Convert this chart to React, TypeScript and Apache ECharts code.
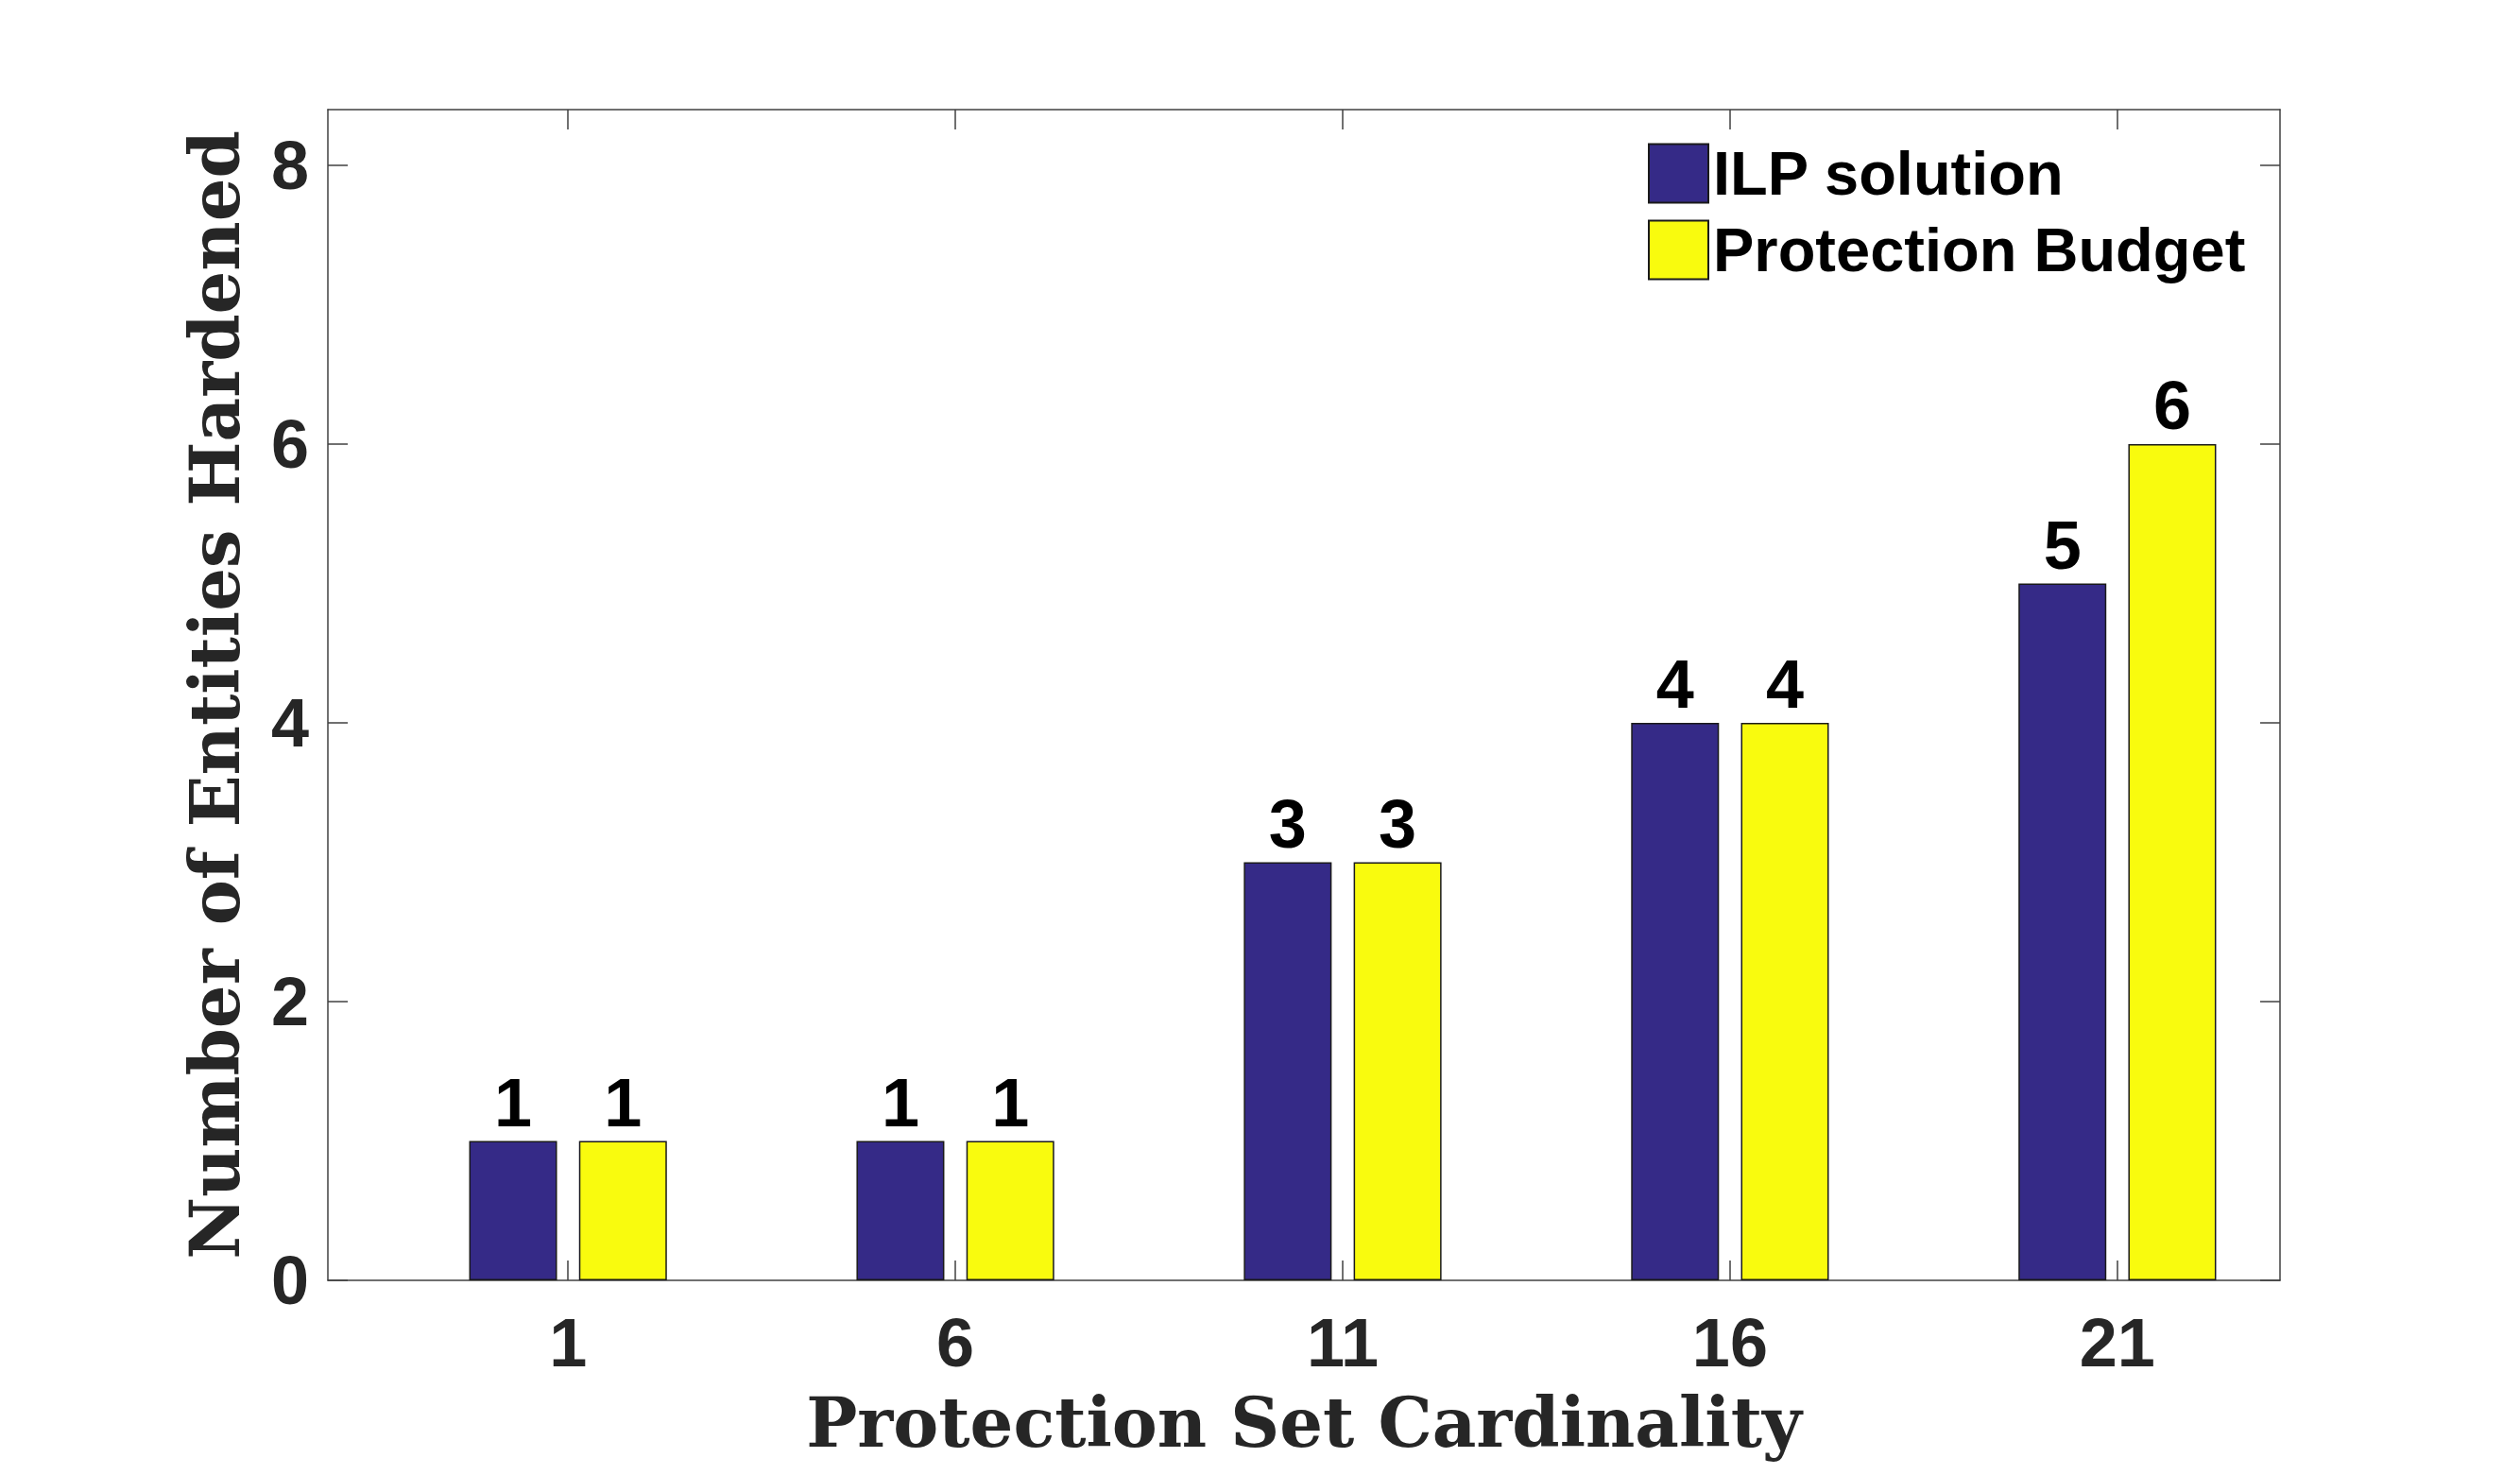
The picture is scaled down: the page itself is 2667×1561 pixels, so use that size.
import React, { useEffect, useRef } from "react";
import * as echarts from "echarts";

const cardinality = [1, 6, 11, 16, 21];
const ilpSolution = [1, 1, 3, 4, 5];
const protectionBudget = [1, 1, 3, 4, 6];
const yTicks = [0, 2, 4, 6, 8];
const seriesNames = ["ILP solution", "Protection Budget"];

const SANS = "'Liberation Sans', Arial, Helvetica, sans-serif";
const SERIF = "'DejaVu Serif', serif";
const AXIS_COLOR = "#404040";

export default function App() {
  const ref = useRef<HTMLDivElement>(null);
  useEffect(() => {
    if (!ref.current) return;
    const chart = echarts.init(ref.current, undefined, { renderer: "svg" });
    const pairs = (vals: number[]) => cardinality.map((c, i) => [c, vals[i]]);
    const labelCfg = {
      show: true,
      position: "top" as const,
      distance: 5,
      color: "#000",
      fontFamily: SANS,
      fontWeight: "bold" as const,
      fontSize: 72,
      formatter: (p: any) => String(p.value[1]),
    };
    chart.setOption({
      animation: false,
      backgroundColor: "#fff",
      grid: { left: 347, top: 116, width: 2066, height: 1239, containLabel: false },
      legend: {
        orient: "vertical",
        left: 1744,
        top: 151,
        padding: 0,
        icon: "rect",
        itemWidth: 63,
        itemHeight: 62,
        itemGap: 16,
        data: seriesNames,
        textStyle: { fontFamily: SANS, fontWeight: "bold", fontSize: 65, color: "#000" },
      },
      xAxis: [
        {
          type: "value",
          min: -2.1,
          max: 23.1,
          position: "bottom",
          name: "Protection Set Cardinality",
          nameLocation: "middle",
          nameGap: 114,
          nameTextStyle: { fontFamily: SERIF, fontWeight: "bold", fontSize: 72, color: "#262626" },
          axisLine: { show: true, onZero: false, lineStyle: { color: AXIS_COLOR, width: 1.5 } },
          axisTick: { show: true, inside: true, length: 21, customValues: cardinality, lineStyle: { color: AXIS_COLOR, width: 1.5 } },
          axisLabel: { show: true, customValues: cardinality, margin: 30, fontFamily: SANS, fontWeight: "bold", fontSize: 72, color: "#262626" },
          splitLine: { show: false },
        },
        {
          type: "value",
          min: -2.1,
          max: 23.1,
          position: "top",
          axisLine: { show: true, onZero: false, lineStyle: { color: AXIS_COLOR, width: 1.5 } },
          axisTick: { show: true, inside: true, length: 21, customValues: cardinality, lineStyle: { color: AXIS_COLOR, width: 1.5 } },
          axisLabel: { show: false },
          splitLine: { show: false },
        },
      ],
      yAxis: [
        {
          type: "value",
          min: 0,
          max: 8.4,
          position: "left",
          name: "Number of Entities Hardened",
          nameLocation: "middle",
          nameGap: 84,
          nameTextStyle: { fontFamily: SERIF, fontWeight: "bold", fontSize: 72, color: "#262626" },
          axisLine: { show: true, onZero: false, lineStyle: { color: AXIS_COLOR, width: 1.5 } },
          axisTick: { show: true, inside: true, length: 21, customValues: yTicks, lineStyle: { color: AXIS_COLOR, width: 1.5 } },
          axisLabel: { show: true, customValues: yTicks, margin: 20, fontFamily: SANS, fontWeight: "bold", fontSize: 72, color: "#262626" },
          splitLine: { show: false },
        },
        {
          type: "value",
          min: 0,
          max: 8.4,
          position: "right",
          axisLine: { show: true, onZero: false, lineStyle: { color: AXIS_COLOR, width: 1.5 } },
          axisTick: { show: true, inside: true, length: 21, customValues: yTicks, lineStyle: { color: AXIS_COLOR, width: 1.5 } },
          axisLabel: { show: false },
          splitLine: { show: false },
        },
      ],
      series: [
        {
          name: seriesNames[0],
          type: "bar",
          xAxisIndex: 0,
          yAxisIndex: 0,
          barWidth: 93,
          barGap: "25%",
          data: pairs(ilpSolution),
          itemStyle: { color: "#352a87", borderColor: "#1a1a1a", borderWidth: 1.5 },
          label: labelCfg,
        },
        {
          name: seriesNames[1],
          type: "bar",
          xAxisIndex: 0,
          yAxisIndex: 0,
          barWidth: 93,
          barGap: "25%",
          data: pairs(protectionBudget),
          itemStyle: { color: "#f9fb0e", borderColor: "#1a1a1a", borderWidth: 1.5 },
          label: labelCfg,
        },
      ],
    });
    return () => chart.dispose();
  }, []);
  return (
    <div
      ref={ref}
      style={{ position: "absolute", left: 0, top: 0, width: 2667, height: 1561 }}
    />
  );
}
